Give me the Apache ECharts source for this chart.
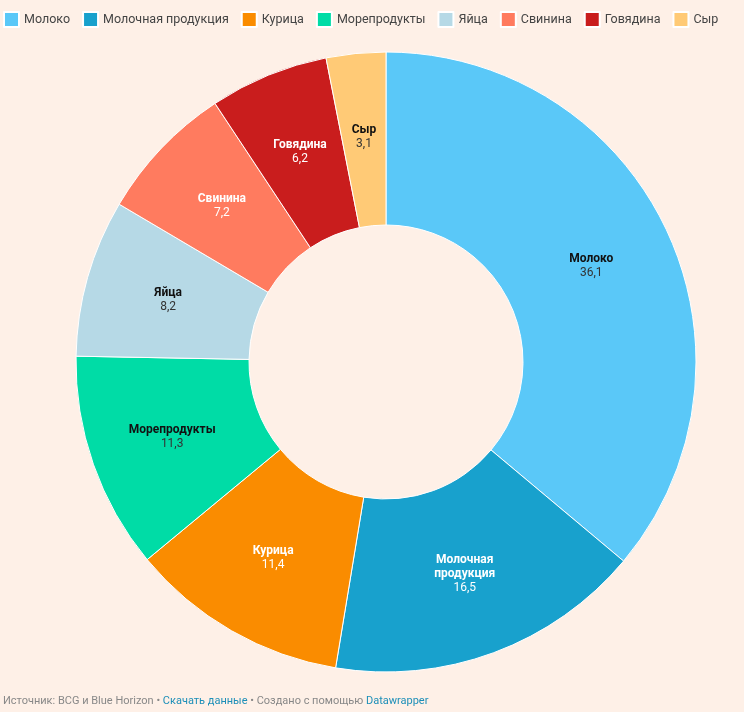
<!DOCTYPE html>
<html>
<head>
<meta charset="utf-8">
<script src="https://cdn.jsdelivr.net/npm/echarts@6/dist/echarts.min.js"></script>
<style>
  html, body { margin: 0; padding: 0; background: #fef0e7; }
  #chart { width: 744px; height: 712px; }
</style>
</head>
<body>
<div id="chart"></div>
<script>
// категории и значения
const categories = ['Молоко', 'Молочная продукция', 'Курица', 'Морепродукты', 'Яйца', 'Свинина', 'Говядина', 'Сыр']
const labelNames = ['Молоко', 'Молочная\nпродукция', 'Курица', 'Морепродукты', 'Яйца', 'Свинина', 'Говядина', 'Сыр']
const values = [36.1, 16.5, 11.4, 11.3, 8.2, 7.2, 6.2, 3.1]
const colors = ['#5ac8f8', '#18a1cd', '#fa8c00', '#00dca6', '#b6d9e6', '#ff7b5f', '#c91d1d', '#ffca76']
const labelColors = ['#111', '#fff', '#fff', '#111', '#111', '#fff', '#fff', '#111']

const myChart = echarts.init(document.getElementById('chart'))

const data = categories.map((name, i) => ({
  name: name,
  value: values[i],
  itemStyle: { color: colors[i] },
  label: {
    color: labelColors[i],
    formatter: () => '{b|' + labelNames[i].split('\n').join('}\n{b|') + '}\n{v|' + String(values[i]).replace('.', ',') + '}',
    rich: {
      b: { fontWeight: 'bold', fontSize: 12, lineHeight: 14, color: labelColors[i], fontFamily: 'Roboto' },
      v: { fontSize: 12, lineHeight: 14, color: labelColors[i] === '#fff' ? '#fff' : '#333', fontFamily: 'Roboto' }
    }
  }
}))

const option = {
  backgroundColor: '#fef0e7',
  animation: false,
  textStyle: { fontFamily: 'Roboto' },
  legend: {
    data: categories,
    left: 3,
    top: 11,
    width: 740,
    padding: 0,
    itemWidth: 15,
    itemHeight: 15,
    itemGap: 12,
    icon: 'rect',
    textStyle: { fontSize: 12.5, color: '#444', fontFamily: 'Roboto' },
    selectedMode: false
  },
  series: [
    {
      type: 'pie',
      center: [386, 362],
      radius: [137, 310],
      startAngle: 90,
      clockwise: true,
      avoidLabelOverlap: false,
      label: { show: true, position: 'inside', align: 'center' },
      labelLine: { show: false },
      itemStyle: { borderColor: '#fff', borderWidth: 1 },
      emphasis: { disabled: true },
      data: data
    }
  ],
  graphic: [
    {
      type: 'text',
      left: 3,
      top: 696,
      style: {
        text: '{g|Источник: BCG и Blue Horizon • }{l|Скачать данные}{g| • Создано с помощью }{l|Datawrapper}',
        rich: {
          g: { fontSize: 11, fill: '#888', fontFamily: 'Roboto' },
          l: { fontSize: 11, fill: '#1d8fb8', fontFamily: 'Roboto' }
        }
      }
    }
  ]
}

myChart.setOption(option, true)
</script>
</body>
</html>
